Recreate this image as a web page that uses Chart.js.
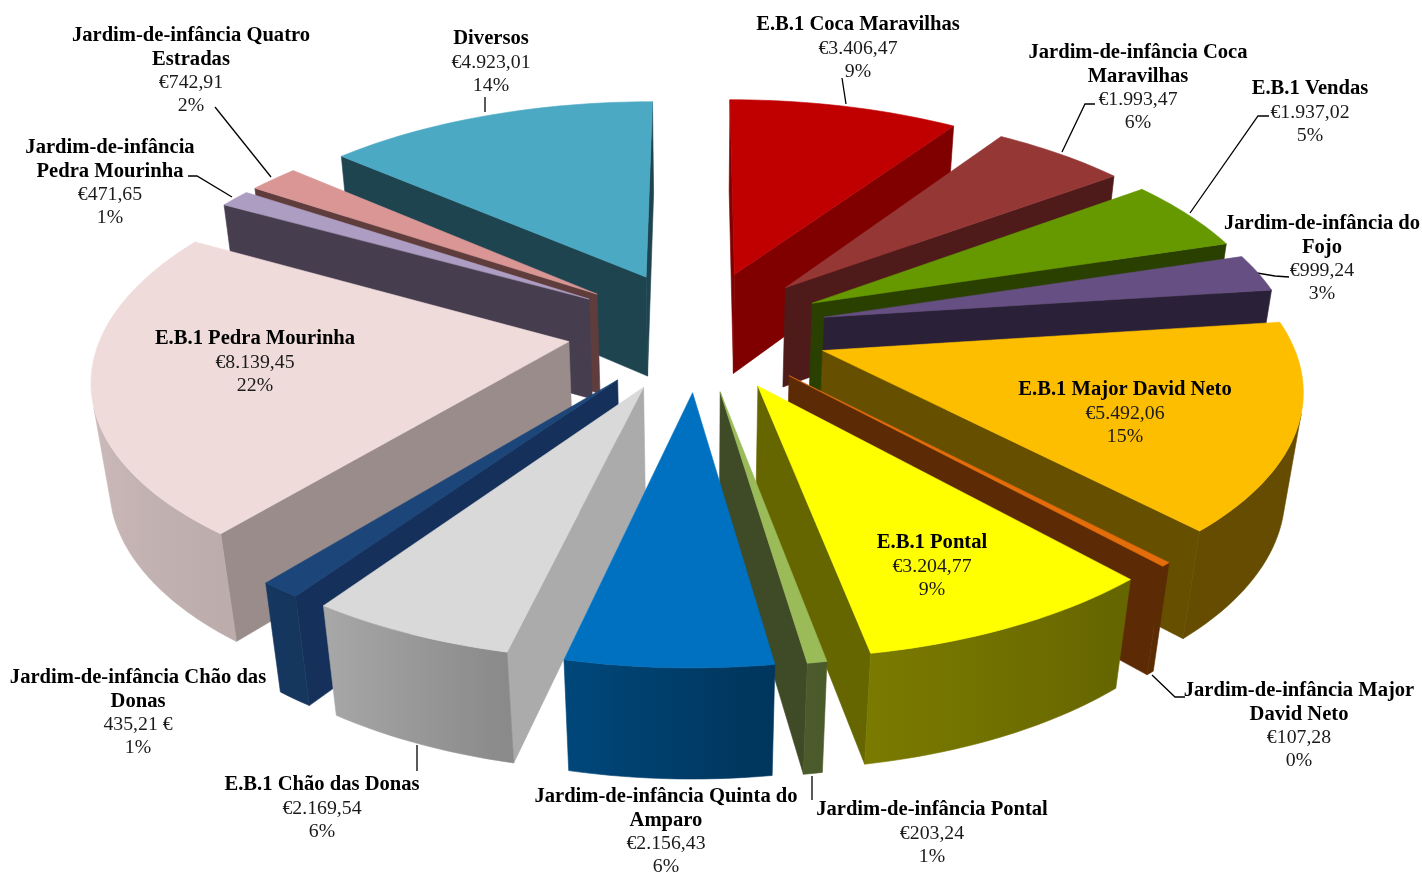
<!DOCTYPE html>
<html lang="pt">
<head>
  <meta charset="UTF-8">
  <title>Despesas por escola</title>
  <style>
    body { margin: 0; background: #fff; }
    canvas { display: block; }
  </style>
</head>
<body>
<canvas id="myChart" width="1422" height="875"></canvas>
<script src="https://cdn.jsdelivr.net/npm/chart.js"></script>
<script>
  // chart data
  const names = [
    'E.B.1 Coca Maravilhas', 'Jardim-de-infância Coca Maravilhas', 'E.B.1 Vendas', 'Jardim-de-infância do Fojo',
    'E.B.1 Major David Neto', 'Jardim-de-infância Major David Neto', 'E.B.1 Pontal', 'Jardim-de-infância Pontal',
    'Jardim-de-infância Quinta do Amparo', 'E.B.1 Chão das Donas', 'Jardim-de-infância Chão das Donas',
    'E.B.1 Pedra Mourinha', 'Jardim-de-infância Pedra Mourinha', 'Jardim-de-infância Quatro Estradas', 'Diversos'
  ];
  const values = [3406.47, 1993.47, 1937.02, 999.24, 5492.06, 107.28, 3204.77, 203.24, 2156.43, 2169.54, 435.21, 8139.45, 471.65, 742.91, 4923.01];
  const amounts = ['€3.406,47', '€1.993,47', '€1.937,02', '€999,24', '€5.492,06', '€107,28', '€3.204,77', '€203,24', '€2.156,43', '€2.169,54', '435,21 €', '€8.139,45', '€471,65', '€742,91', '€4.923,01'];
  const percents = ['9%', '6%', '5%', '3%', '15%', '0%', '9%', '1%', '6%', '6%', '1%', '22%', '1%', '2%', '14%'];

  // styles
  const topColors = ['#C00000', '#953735', '#669900', '#664F82', '#FDBE00', '#E46C0A', '#FFFF00', '#9BBB59', '#0070C0', '#D9D9D9', '#1C4679', '#F0DBDB', '#AD9DC3', '#D99694', '#4BA9C4'];
  const sideColors = ['#800000', '#4F1B1A', '#2A4000', '#2A2138', '#665000', '#5C2A04', '#666600', '#3F4A26', '#003D66', '#ABABAB', '#15305A', '#998C8B', '#463E4F', '#5F3D3C', '#1E4450'];
  const shadeStops = [[0, 0.5], [100, 0.4], [140, 0.4], [169, 0.48], [175, 0.5], [190, 0.62], [215, 0.78], [250, 0.85], [280, 0.8], [360, 0.5]];

  // label lines: name wrapped as in the picture, x centre and y of first line
  const nameLines = [
    ['E.B.1 Coca Maravilhas'], ['Jardim-de-infância Coca', 'Maravilhas'], ['E.B.1 Vendas'], ['Jardim-de-infância do', 'Fojo'],
    ['E.B.1 Major David Neto'], ['Jardim-de-infância Major', 'David Neto'], ['E.B.1 Pontal'], ['Jardim-de-infância Pontal'],
    ['Jardim-de-infância Quinta do', 'Amparo'], ['E.B.1 Chão das Donas'], ['Jardim-de-infância Chão das', 'Donas'],
    ['E.B.1 Pedra Mourinha'], ['Jardim-de-infância', 'Pedra Mourinha'], ['Jardim-de-infância Quatro', 'Estradas'], ['Diversos']
  ];
  const labelX = [858, 1138, 1310, 1322, 1125, 1299, 932, 932, 666, 322, 138, 255, 110, 191, 491];
  const labelY = [25, 53, 89, 224, 390, 691, 543, 810, 797, 785, 678, 339, 148, 36, 39];
  const leaders = [
    [[842, 78], [846, 104]],
    [[1095, 104], [1085, 104], [1062, 152]],
    [[1269, 116], [1258, 116], [1190, 213]],
    [[1289, 277], [1275, 276], [1257, 273]],
    [[1152, 675], [1175, 697], [1185, 697]],
    [[812, 776], [812, 800]],
    [[417, 745], [417, 771]],
    [[188, 176], [197, 176], [232, 197]],
    [[215, 107], [271, 177]],
    [[485, 97], [485, 112]]
  ];

  // projection of the tilted pie
  const CX = 698, CY = 330, A = 466, B = 215, C = 104, K = 0.145, M = 0.03, EXPLODE = 0.28;
  const project = (u, v, h) => {
    const w = 1 - K * v + M * h;
    return [CX + A * u / w, CY + (B * v + C * h) / w];
  };

  function shade(hex, f) {
    const n = parseInt(hex.slice(1), 16);
    return `rgb(${((n >> 16) & 255) * f | 0},${((n >> 8) & 255) * f | 0},${(n & 255) * f | 0})`;
  }
  function shadeAt(deg) {
    for (let i = 1; i < shadeStops.length; i++) {
      const [d0, f0] = shadeStops[i - 1], [d1, f1] = shadeStops[i];
      if (deg <= d1) return f0 + (f1 - f0) * (deg - d0) / (d1 - d0);
    }
    return 0.5;
  }
  function area(pts) {
    let s = 0;
    pts.forEach((p, i) => { const q = pts[(i + 1) % pts.length]; s += p[0] * q[1] - q[0] * p[1]; });
    return s;
  }
  function fillPoly(ctx, pts, color) {
    ctx.beginPath();
    pts.forEach((p, i) => i ? ctx.lineTo(p[0], p[1]) : ctx.moveTo(p[0], p[1]));
    ctx.closePath();
    ctx.fillStyle = color;
    ctx.strokeStyle = color;
    ctx.lineWidth = 0.6;
    ctx.fill();
    ctx.stroke();
  }

  function drawSlice(ctx, arc, i) {
    const a0 = arc.startAngle + Math.PI / 2, a1 = arc.endAngle + Math.PI / 2, mid = (a0 + a1) / 2;
    const ox = EXPLODE * Math.sin(mid), oy = -EXPLODE * Math.cos(mid);
    const at = (a, h) => project(ox + Math.sin(a), oy - Math.cos(a), h);
    const steps = Math.max(2, Math.ceil((a1 - a0) * 180 / Math.PI / 1.5));
    const rim = [];
    for (let s = 0; s <= steps; s++) rim.push(a0 + (a1 - a0) * s / steps);
    const tip0 = project(ox, oy, 0), tip1 = project(ox, oy, 1);

    // radial walls
    const startWall = [tip0, at(a0, 0), at(a0, 1), tip1];
    const endWall = [tip0, at(a1, 0), at(a1, 1), tip1];
    if (area(startWall) < 0) fillPoly(ctx, startWall, sideColors[i]);
    if (area(endWall) > 0) fillPoly(ctx, endWall, sideColors[i]);

    // outer wall: the part that faces the viewer, shaded left to right
    const seen = rim.filter((a, s) => s < steps
      ? area([at(a, 0), at(rim[s + 1], 0), at(rim[s + 1], 1), at(a, 1)]) < 0
      : area([at(rim[s - 1], 0), at(a, 0), at(a, 1), at(rim[s - 1], 1)]) < 0);
    if (seen.length > 1) {
      const xs = seen.map(a => at(a, 0)[0]);
      const x0 = Math.min(...xs), x1 = Math.max(...xs);
      const grad = ctx.createLinearGradient(x0, 0, x1, 0);
      seen.forEach((a, s) => grad.addColorStop((xs[s] - x0) / (x1 - x0), shade(topColors[i], shadeAt(a * 180 / Math.PI))));
      const wall = seen.map(a => at(a, 0)).concat(seen.slice().reverse().map(a => at(a, 1)));
      fillPoly(ctx, wall, grad);
    }

    // top face
    fillPoly(ctx, [tip0].concat(rim.map(a => at(a, 0))), topColors[i]);
  }

  const pie3d = {
    id: 'pie3d',
    beforeDatasetsDraw(chart) {
      const ctx = chart.ctx;
      const arcs = chart.getDatasetMeta(0).data;
      ctx.save();

      // leader lines sit under the slices
      ctx.strokeStyle = '#000';
      ctx.lineWidth = 1.3;
      leaders.forEach(line => {
        ctx.beginPath();
        line.forEach((p, i) => i ? ctx.lineTo(p[0], p[1]) : ctx.moveTo(p[0], p[1]));
        ctx.stroke();
      });

      // back slices first
      const order = arcs.map((arc, i) => i).sort((p, q) => {
        const depth = arc => -Math.cos((arc.startAngle + arc.endAngle) / 2 + Math.PI / 2);
        return depth(arcs[p]) - depth(arcs[q]);
      });
      order.forEach(i => drawSlice(ctx, arcs[i], i));
      ctx.restore();
      return false;
    },
    afterDraw(chart) {
      const ctx = chart.ctx;
      ctx.save();
      ctx.textAlign = 'center';
      ctx.textBaseline = 'middle';
      names.forEach((name, i) => {
        let y = labelY[i];
        ctx.fillStyle = '#000';
        ctx.font = 'bold 20.6px "Liberation Serif"';
        nameLines[i].forEach(line => { ctx.fillText(line, labelX[i], y); y += 23.4; });
        ctx.fillStyle = '#1a1a1a';
        ctx.font = '19.8px "Liberation Serif"';
        ctx.fillText(amounts[i], labelX[i], y); y += 23.4;
        ctx.fillText(percents[i], labelX[i], y);
      });
      ctx.restore();
    }
  };

  new Chart(document.getElementById('myChart').getContext('2d'), {
    type: 'pie',
    data: {
      labels: names,
      datasets: [{ data: values, backgroundColor: topColors, borderWidth: 0 }]
    },
    options: {
      responsive: false,
      animation: false,
      plugins: { legend: { display: false }, tooltip: { enabled: false } }
    },
    plugins: [pie3d]
  });
</script>
</body>
</html>
